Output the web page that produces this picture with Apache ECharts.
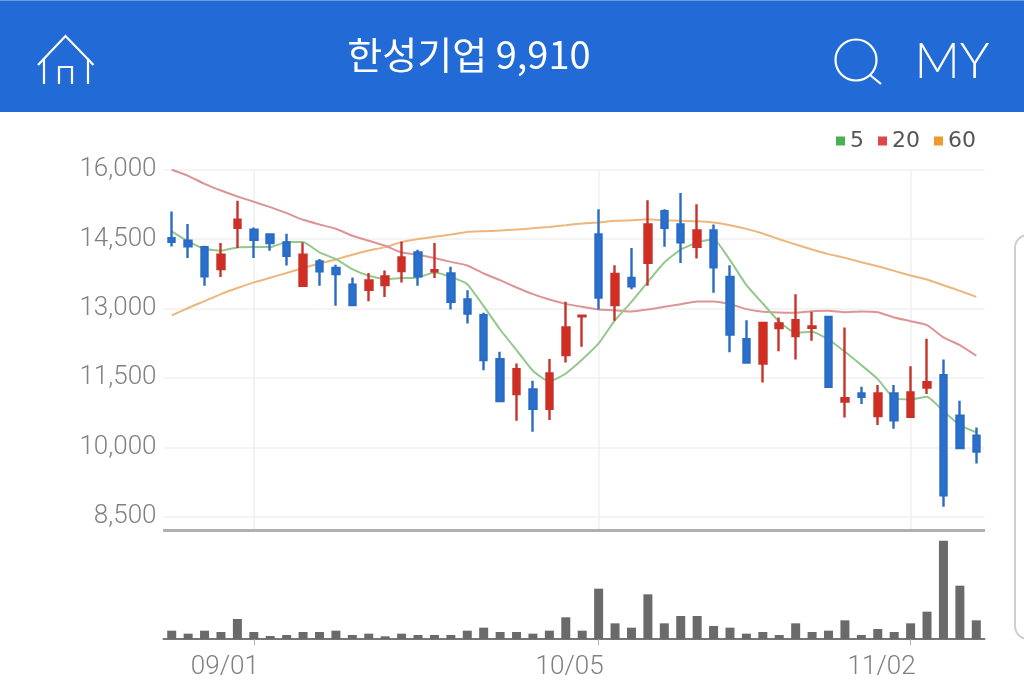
<!DOCTYPE html>
<html><head><meta charset="utf-8">
<style>html,body{margin:0;padding:0;background:#fff}#c{width:1024px;height:700px}</style>
<script src="https://cdn.jsdelivr.net/npm/echarts@6/dist/echarts.min.js"></script>
</head><body><div id="c"></div>
<script>
const titleText = '한성기업 9,910';
const yTicks = [8500,10000,11500,13000,14500,16000];
const labelledDates = ['09/01','10/05','11/02'];
const dates = ['08/25','08/26','08/27','08/28','08/31','09/01','09/02','09/03','09/04','09/07','09/08','09/09','09/10','09/11','09/14','09/15','09/16','09/17','09/18','09/21','09/22','09/23','09/24','09/25','09/28','09/29','10/05','10/06','10/07','10/08','10/12','10/13','10/14','10/15','10/16','10/19','10/20','10/21','10/22','10/23','10/26','10/27','10/28','10/29','10/30','11/02','11/03','11/04','11/05','11/06'];
const opens = [14522,14464,14327,13852,14745,14702,14601,14428,13492,14018,13874,13514,13406,13506,13809,14212,13802,13756,13194,12856,11906,11150,11250,10833,11992,12830,14598,13072,13662,13986,15102,14814,14332,14685,13684,12338,11812,12575,12402,12582,12820,10991,11164,10674,11164,10660,11294,11560,10682,10250];
const closes = [14442,14342,13694,14162,14918,14486,14414,14140,14162,13802,13744,13074,13607,13694,14104,13694,13830,13144,12892,11884,10998,11690,10833,11596,12590,12842,13238,13749,13482,14814,14742,14433,14685,13893,12438,11834,12690,12676,12748,12611,11308,11063,11092,11164,10581,11186,11409,8961,9983,9910];
const lows = [14342,14090,13492,13679,14306,14090,14248,13931,13492,13492,13060,13060,13154,13247,13564,13492,13658,12978,12676,11668,10998,10574,10336,10588,11834,12172,12978,12734,13418,13490,14332,13986,14080,13338,12057,11834,11402,12078,11898,12302,11308,10646,10934,10480,10401,10646,11150,8716,9983,9652];
const highs = [15098,14824,14356,14414,15328,14752,14615,14615,14428,14068,13946,13672,13766,13823,14450,14270,14414,13900,13396,12906,12064,11812,11438,11906,13144,12842,15146,13936,14310,15340,15146,15498,15254,14814,13936,12748,12690,12806,13310,12928,12820,12590,11308,11344,11344,11754,12345,11898,11006,10430];
const volumes = [25,16,25,21,60,21,9,12,21,21,25,12,16,8,16,12,12,12,25,34,21,21,16,25,65,25,151,47,34,134,47,69,69,39,34,16,21,12,47,21,25,56,12,30,21,47,82,295,160,56];
const ma5 = [14666,14450,14291,14248,14320,14327,14327,14435,14435,14212,14068,13852,13708,13636,13658,13672,13780,13684,13526,13050,12546,12100,11654,11416,11596,11898,12244,12748,13144,13576,13994,14274,14426,14498,14044,13504,13108,12712,12474,12496,12330,12064,11776,11474,11056,11034,11092,10782,10480,10322];
const ma20 = [15998,15868,15695,15551,15422,15306,15191,15062,14918,14817,14723,14572,14464,14356,14212,14162,14090,14008,13929,13756,13612,13454,13310,13194,13100,13036,12978,12964,12935,12978,13036,13094,13151,13151,13094,12986,12928,12914,12906,12942,12950,12921,12935,12921,12806,12726,12640,12374,12208,11978];
const ma60 = [12851,13010,13161,13312,13442,13564,13665,13766,13874,13974,14061,14162,14255,14327,14435,14500,14550,14598,14656,14670,14685,14706,14735,14764,14800,14836,14858,14894,14908,14930,14908,14894,14886,14858,14800,14721,14620,14498,14383,14276,14175,14094,14001,13914,13814,13713,13626,13504,13382,13252];

const candle = dates.map((d,i)=>[opens[i],closes[i],lows[i],highs[i]]);
const showDate = (i,v)=>labelledDates.includes(v);
const sans = 'Roboto, sans-serif';
const chart = echarts.init(document.getElementById('c'),null,{renderer:'canvas'});
const line = (name,data,color,lc)=>({name,type:'line',data,xAxisIndex:0,yAxisIndex:0,smooth:0.15,symbol:'none',z:2,
  itemStyle:{color},lineStyle:{color:lc,width:2}});
chart.setOption({
  animation:false,backgroundColor:'#fff',
  title:{text:titleText,left:464,top:31,textAlign:'center',textStyle:{color:'#fff',fontSize:38,fontWeight:400,fontFamily:'"Noto Sans CJK KR"'},z:20},
  legend:{data:['5','20','60'],right:43,top:125,icon:'rect',itemWidth:9,itemHeight:9,itemGap:14,
    textStyle:{fontSize:22,color:'#555',fontFamily:'"DejaVu Sans"'},selectedMode:false},
  grid:[{left:163.5,width:821,top:169.7,height:347},{left:163.5,width:821,top:531,height:108}],
  xAxis:[
   {type:'category',data:dates,gridIndex:0,axisLine:{show:false},axisLabel:{show:false},
    axisTick:{show:true,interval:showDate,alignWithLabel:true,length:14,lineStyle:{color:'#efefef',width:1.5}},
    splitLine:{show:true,interval:showDate,alignWithLabel:true,lineStyle:{color:'#efefef',width:1.5}}},
   {type:'category',data:dates,gridIndex:1,axisLine:{show:true,lineStyle:{color:'#777',width:2}},
    axisTick:{show:true,interval:showDate,alignWithLabel:true,length:6,lineStyle:{color:'#aaa'}},
    axisLabel:{interval:showDate,align:'right',margin:15,padding:[0,-5,0,0],fontSize:26,color:'#808080',fontFamily:sans,fontWeight:300},
    splitLine:{show:false}}
  ],
  yAxis:[
   {type:'value',gridIndex:0,min:yTicks[0],max:yTicks[yTicks.length-1],interval:1500,
    axisLine:{show:false},axisTick:{show:false},
    axisLabel:{fontSize:26,color:'#808080',margin:7,padding:[3,0,0,0],fontFamily:sans,fontWeight:300,formatter:v=>v.toLocaleString('en-US')},
    splitLine:{show:true,lineStyle:{color:'#f1f1f1',width:1.5}}},
   {type:'value',gridIndex:1,min:0,max:324,show:false}
  ],
  series:[
   line('60',ma60,'#ef9a2d','#ecb67c'),
   line('20',ma20,'#e0454a','#dc9494'),
   line('5',ma5,'#4caf50','#93c88d'),
   {name:'price',type:'candlestick',data:candle,xAxisIndex:0,yAxisIndex:0,barWidth:7,z:3,
    itemStyle:{color:'#d42c20',color0:'#2a70cf',borderColor:'#c8322a',borderColor0:'#2a6cc4',borderWidth:2.4}},
   {name:'volume',type:'bar',data:volumes,xAxisIndex:1,yAxisIndex:1,barWidth:9,itemStyle:{color:'#6a6a6a'}}
  ],
  graphic:[
   {type:'rect',z:10,shape:{x:0,y:0,width:1024,height:112},style:{fill:'#226bd6'}},
   {type:'rect',z:10,shape:{x:0,y:0,width:1024,height:1},style:{fill:'#6d9be0'}},
   {type:'polyline',z:11,shape:{points:[[38,65],[65.5,36],[93.5,65]]},style:{stroke:'#fff',lineWidth:2.2,fill:null}},
   {type:'polyline',z:11,shape:{points:[[44,58],[44,84]]},style:{stroke:'#fff',lineWidth:2.2,fill:null}},
   {type:'polyline',z:11,shape:{points:[[88,58],[88,84]]},style:{stroke:'#fff',lineWidth:2.2,fill:null}},
   {type:'polyline',z:11,shape:{points:[[59,84],[59,67],[72,67],[72,84]]},style:{stroke:'#fff',lineWidth:2.2,fill:null}},
   {type:'circle',z:11,shape:{cx:856,cy:60,r:20.5},style:{stroke:'#fff',lineWidth:2.2,fill:null}},
   {type:'line',z:11,shape:{x1:870,y1:75,x2:881,y2:84},style:{stroke:'#fff',lineWidth:2.2}},
   {type:'text',z:11,x:952,y:62,style:{text:'MY',fill:'#fff',font:'300 50px Lato, sans-serif',align:'center',verticalAlign:'middle'}},
   {type:'line',z:5,shape:{x1:163,y1:530.5,x2:985,y2:530.5},style:{stroke:'#b0b0b0',lineWidth:3}},
   {type:'rect',z:5,shape:{x:1015,y:235,width:40,height:404,r:13},style:{stroke:'#cfcfcf',lineWidth:2,fill:'#fff'}}
  ]
});
</script></body></html>
